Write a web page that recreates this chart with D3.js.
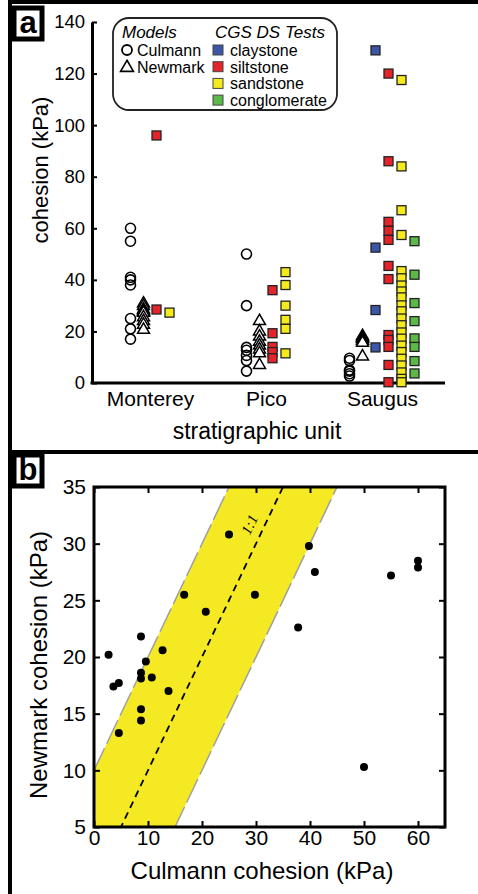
<!DOCTYPE html>
<html>
<head>
<meta charset="utf-8">
<script src="https://cdn.jsdelivr.net/npm/d3@7"></script>
<style>
  body { margin: 0; background: #fff; }
  svg { display: block; font-family: "Liberation Sans", Arial, sans-serif; }
</style>
</head>
<body>
<div id="chart"></div>
<script>
// ---- panel a data (cohesion, kPa) ----
const units = ["Monterey", "Pico", "Saugus"];

const montereyCulmann = [60, 55, 41, 40, 38, 25, 21, 17];
const montereyNewmark = [30.8, 29.8, 28.5, 27.9, 27.5, 27.2, 25.5, 24, 22.6, 20.6];
const montereySiltstone = [96, 28.5];
const montereySandstone = [27.3];

const picoCulmann = [50, 30, 13.8, 12.7, 10.7, 8.7, 4.6];
const picoNewmark = [24, 20, 18, 16, 14.5, 13, 11.5, 7];
const picoSiltstone = [36, 19.3, 14, 12, 9.6];
const picoSandstone = [43, 38, 30, 24.5, 21, 11.5];

const saugusCulmann = [9.6, 8.7, 5, 4.6, 3.6, 2.7];
const saugusNewmark = [18.2, 17.7, 17.4, 17, 16.4, 15.6, 10.3];
const saugusClaystone = [129, 52.5, 28.3, 13.8];
const saugusSiltstone = [120, 86, 62.5, 59, 55.5, 45.4, 40.3, 18.6, 16.7, 14, 7, 0.3];
const saugusSandstone = [117.5, 84, 67, 57.4, 43.4, 40.6, 37.8, 35.5, 33.2, 30.1, 27.8, 25,
                         22.4, 19.6, 17.2, 14.5, 12, 9.4, 6.8, 4.1, 1.6, 0.3];
const saugusConglomerate = [55, 42, 31, 24, 17.3, 14, 8.5, 3.7];

const yTicksA = [0, 20, 40, 60, 80, 100, 120, 140];

// legend entries
const legendModels = ["Culmann", "Newmark"];
const legendTests = ["claystone", "siltstone", "sandstone", "conglomerate"];

// ---- panel b data: Culmann vs Newmark cohesion (kPa) ----
const culmann = [25, 16.7, 20.7, 8.7, 2.7, 12.7, 9.6, 8.7, 8.7, 10.7, 3.6, 4.6, 13.8, 8.7, 8.7, 4.6,
                 50, 39.8, 40.9, 29.8, 37.8, 55, 60, 60];
const newmark = [30.8, 25.5, 24, 21.8, 20.2, 20.6, 19.6, 18.6, 18.1, 18.2, 17.4, 17.7, 17, 15.4, 14.4, 13.3,
                 10.3, 29.8, 27.5, 25.5, 22.6, 27.2, 28.5, 27.9];
const xTicksB = [0, 10, 20, 30, 40, 50, 60];
const yTicksB = [5, 10, 15, 20, 25, 30, 35];
const bandHalfWidth = 10;

const testColor = {
  claystone: "#3b56a6",
  siltstone: "#e3242b",
  sandstone: "#f4ea1e",
  conglomerate: "#5cb848"
};

// group series per unit (order sets the side-by-side position)
const groups = [
  { unit: "Monterey", series: [["culmann", montereyCulmann], ["newmark", montereyNewmark],
                               ["siltstone", montereySiltstone], ["sandstone", montereySandstone]] },
  { unit: "Pico", series: [["culmann", picoCulmann], ["newmark", picoNewmark],
                           ["siltstone", picoSiltstone], ["sandstone", picoSandstone]] },
  { unit: "Saugus", series: [["culmann", saugusCulmann], ["newmark", saugusNewmark],
                             ["claystone", saugusClaystone], ["siltstone", saugusSiltstone],
                             ["sandstone", saugusSandstone], ["conglomerate", saugusConglomerate]] }
];

const W = 478, H = 894;
const svg = d3.select("#chart").append("svg").attr("width", W).attr("height", H);

// frame
svg.append("line").attr("x1", 10).attr("x2", 10).attr("y1", 0).attr("y2", H)
  .attr("stroke", "#000").attr("stroke-width", 4);
svg.append("line").attr("x1", 8).attr("x2", W).attr("y1", 2).attr("y2", 2)
  .attr("stroke", "#000").attr("stroke-width", 4);
svg.append("line").attr("x1", 8).attr("x2", W).attr("y1", 452).attr("y2", 452)
  .attr("stroke", "#000").attr("stroke-width", 4);

function panelTag(x, y, letter) {
  svg.append("rect").attr("x", x).attr("y", y).attr("width", 28).attr("height", 31)
    .attr("fill", "#fff").attr("stroke", "#000").attr("stroke-width", 5);
  svg.append("text").attr("x", x + 14).attr("y", y + 25).attr("text-anchor", "middle")
    .attr("font-size", 31).attr("font-weight", "bold").text(letter);
}
panelTag(14, 8, "a");
panelTag(14, 455, "b");

// ================= panel a =================
const axLeft = 92, axRight = 445;
const yA = d3.scaleLinear().domain([0, 140]).range([383, 22]);
const xA = d3.scalePoint().domain(units).range([axLeft, 440]).padding(0.5);
const step = 13;

const gA = svg.append("g");

gA.append("g").attr("transform", `translate(${axLeft},0)`)
  .call(d3.axisLeft(yA).tickValues(yTicksA).tickSizeInner(-5).tickSizeOuter(0).tickPadding(7))
  .call(g => g.select(".domain").attr("stroke-width", 3))
  .call(g => g.selectAll(".tick line").attr("stroke-width", 2))
  .call(g => g.selectAll("text").attr("font-size", 18.5).attr("fill", "#000")
    .attr("font-family", "Liberation Sans, Arial, sans-serif"));

gA.append("g").attr("transform", `translate(0,${yA(0)})`)
  .call(d3.axisBottom(xA).tickSize(0).tickPadding(8))
  .call(g => g.select(".domain").remove())
  .call(g => g.selectAll("text").attr("font-size", 21).attr("fill", "#000")
    .attr("font-family", "Liberation Sans, Arial, sans-serif"));
gA.append("line").attr("x1", axLeft - 1.5).attr("x2", axRight).attr("y1", yA(0)).attr("y2", yA(0))
  .attr("stroke", "#000").attr("stroke-width", 3);

gA.append("text").attr("x", 257).attr("y", 439).attr("text-anchor", "middle")
  .attr("font-size", 23).text("stratigraphic unit");
gA.append("text").attr("transform", "translate(48,170) rotate(-90)").attr("text-anchor", "middle")
  .attr("font-size", 22).text("cohesion (kPa)");

const tri = d3.symbol().type(d3.symbolTriangle).size(62);

groups.forEach(grp => {
  const n = grp.series.length;
  grp.series.forEach(([kind, vals], i) => {
    const x = xA(grp.unit) + (i - (n - 1) / 2) * step;
    const g = gA.append("g");
    if (kind === "culmann") {
      g.selectAll("circle").data(vals).join("circle")
        .attr("cx", x).attr("cy", d => yA(d)).attr("r", 5)
        .attr("fill", "none").attr("stroke", "#000").attr("stroke-width", 1.6);
    } else if (kind === "newmark") {
      g.selectAll("path").data(vals).join("path")
        .attr("d", tri).attr("transform", d => `translate(${x},${yA(d)})`)
        .attr("fill", "#fff").attr("stroke", "#000").attr("stroke-width", 1.5);
    } else {
      g.selectAll("rect").data(vals).join("rect")
        .attr("x", x - 4.5).attr("y", d => yA(d) - 4.5).attr("width", 9).attr("height", 9)
        .attr("fill", testColor[kind]).attr("stroke", "#222").attr("stroke-width", 1.3);
    }
  });
});

// legend
const lg = gA.append("g");
lg.append("rect").attr("x", 113).attr("y", 18).attr("width", 224).attr("height", 92).attr("rx", 16)
  .attr("fill", "#fff").attr("stroke", "#222").attr("stroke-width", 1.8);
lg.append("text").attr("x", 122).attr("y", 38).attr("font-size", 17).attr("font-style", "italic").text("Models");
lg.append("text").attr("x", 215).attr("y", 38).attr("font-size", 17).attr("font-style", "italic").text("CGS DS Tests");
const rowY = i => 50 + i * 16.7;
legendModels.forEach((name, i) => {
  if (i === 0) {
    lg.append("circle").attr("cx", 127).attr("cy", rowY(i)).attr("r", 5)
      .attr("fill", "none").attr("stroke", "#000").attr("stroke-width", 1.8);
  } else {
    lg.append("path").attr("d", d3.symbol().type(d3.symbolTriangle).size(72))
      .attr("transform", `translate(127,${rowY(i) + 1})`)
      .attr("fill", "none").attr("stroke", "#000").attr("stroke-width", 1.6);
  }
  lg.append("text").attr("x", 137).attr("y", rowY(i) + 6).attr("font-size", 16).text(name);
});
legendTests.forEach((name, i) => {
  lg.append("rect").attr("x", 213).attr("y", rowY(i) - 5).attr("width", 10).attr("height", 10)
    .attr("fill", testColor[name]).attr("stroke", "#444").attr("stroke-width", 1);
  lg.append("text").attr("x", 230).attr("y", rowY(i) + 6).attr("font-size", 16).text(name);
});

// ================= panel b =================
const xB = d3.scaleLinear().domain([0, 65]).range([94, 445]);
const yB = d3.scaleLinear().domain([5, 35]).range([827, 487]);
const gB = svg.append("g");

gB.append("clipPath").attr("id", "clipB").append("rect")
  .attr("x", xB(0)).attr("y", yB(35)).attr("width", xB(65) - xB(0)).attr("height", yB(5) - yB(35));

const plotB = gB.append("g").attr("clip-path", "url(#clipB)");
const band = [[-10, -10 + bandHalfWidth], [50, 50 + bandHalfWidth], [50, 50 - bandHalfWidth], [-10, -10 - bandHalfWidth]];
plotB.append("path")
  .attr("d", d3.line().x(d => xB(d[0])).y(d => yB(d[1]))(band) + "Z")
  .attr("fill", "#f4e922");
[bandHalfWidth, -bandHalfWidth].forEach(off => {
  plotB.append("line")
    .attr("x1", xB(-10)).attr("y1", yB(-10 + off)).attr("x2", xB(50)).attr("y2", yB(50 + off))
    .attr("stroke", "#a0a0a0").attr("stroke-width", 1.5).attr("stroke-dasharray", "26,5");
});
plotB.append("line")
  .attr("x1", xB(0)).attr("y1", yB(0)).attr("x2", xB(40)).attr("y2", yB(40))
  .attr("stroke", "#000").attr("stroke-width", 1.8).attr("stroke-dasharray", "7,5");

const ang = Math.atan2(yB(0) - yB(1), xB(1) - xB(0)) * 180 / Math.PI;
gB.append("text")
  .attr("transform", `translate(${xB(31.5) - 10},${yB(31.5)}) rotate(${-ang})`)
  .attr("text-anchor", "middle").attr("font-size", 15).attr("font-style", "italic")
  .attr("font-family", "Liberation Serif, Times New Roman, serif").text("1:1");

gB.append("g").selectAll("circle").data(culmann.map((c, i) => [c, newmark[i]])).join("circle")
  .attr("cx", d => xB(d[0])).attr("cy", d => yB(d[1])).attr("r", 4).attr("fill", "#000");

function styleAxis(g, labels) {
  g.select(".domain").remove();
  g.selectAll(".tick line").attr("stroke-width", 2);
  g.selectAll("text").attr("font-size", 21).attr("fill", "#000")
    .attr("font-family", "Liberation Sans, Arial, sans-serif");
  if (!labels) g.selectAll("text").remove();
}
gB.append("g").attr("transform", `translate(0,${yB(5)})`)
  .call(d3.axisBottom(xB).tickValues(xTicksB).tickSizeInner(-6).tickSizeOuter(0).tickPadding(3))
  .call(g => styleAxis(g, true));
gB.append("g").attr("transform", `translate(0,${yB(35)})`)
  .call(d3.axisTop(xB).tickValues(xTicksB).tickSizeInner(-6).tickSizeOuter(0))
  .call(g => styleAxis(g, false));
gB.append("g").attr("transform", `translate(${xB(0)},0)`)
  .call(d3.axisLeft(yB).tickValues(yTicksB).tickSizeInner(-6).tickSizeOuter(0).tickPadding(8))
  .call(g => styleAxis(g, true));
gB.append("g").attr("transform", `translate(${xB(65)},0)`)
  .call(d3.axisRight(yB).tickValues(yTicksB).tickSizeInner(-6).tickSizeOuter(0))
  .call(g => styleAxis(g, false));

gB.append("rect").attr("x", xB(0)).attr("y", yB(35)).attr("width", xB(65) - xB(0)).attr("height", yB(5) - yB(35))
  .attr("fill", "none").attr("stroke", "#000").attr("stroke-width", 3);

gB.append("text").attr("x", 262).attr("y", 879).attr("text-anchor", "middle")
  .attr("font-size", 24).text("Culmann cohesion (kPa)");
gB.append("text").attr("transform", "translate(47,665) rotate(-90)").attr("text-anchor", "middle")
  .attr("font-size", 24).text("Newmark cohesion (kPa)");
</script>
</body>
</html>
